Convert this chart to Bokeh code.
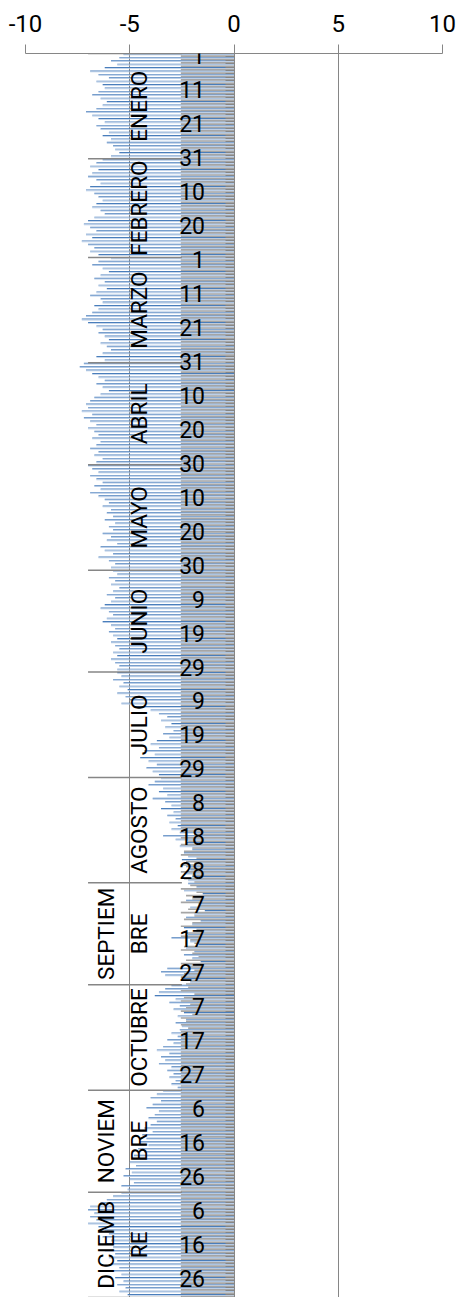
import math
from bokeh.plotting import figure
from bokeh.models import Range1d, ColumnDataSource, FixedTicker, LinearAxis
from bokeh.transform import dodge
from bokeh.core.properties import value
from bokeh.embed import file_html
from bokeh.resources import INLINE

# ---------------- data ----------------
MONTH_LABEL_LINES = [["ENERO"], ["FEBRERO"], ["MARZO"], ["ABRIL"], ["MAYO"], ["JUNIO"],
                     ["JULIO"], ["AGOSTO"], ["SEPTIEM", "BRE"], ["OCTUBRE"],
                     ["NOVIEM", "BRE"], ["DICIEMB", "RE"]]
MONTH_DAYS = [31, 29, 31, 30, 31, 30, 31, 31, 30, 31, 30, 31]
DAY_TICK_LABELS = ["1", "11", "21", "31", "10", "20", "1", "11", "21", "31", "10", "20", "30",
                   "10", "20", "30", "9", "19", "29", "9", "19", "29", "8", "18", "28",
                   "7", "17", "27", "7", "17", "27", "6", "16", "26", "6", "16", "26"]
X_TICKS = [-10, -5, 0, 5, 10]
X_TICK_LABELS = ["-10", "-5", "0", "5", "10"]

BLUE_ENE = [-5.3, -5.5, -5.9, -5.6, -6.2, -6.9, -6.5, -6.0, -6.6, -6.3,
            -6.2, -6.5, -6.8, -6.4, -6.1, -6.3, -6.6, -7.1, -6.8, -6.5,
            -6.2, -6.6, -6.4, -6.0, -6.3, -5.9, -6.1, -5.8, -5.7, -5.5, -5.9]
BLUE_FEB = [-6.3, -6.6, -6.9, -6.5, -6.8, -7.0, -6.6, -6.4, -6.9, -7.1,
            -6.7, -6.5, -6.3, -6.6, -6.8, -6.4, -6.2, -6.7, -7.0, -7.2,
            -6.9, -6.6, -7.1, -6.8, -7.3, -7.0, -6.7, -6.9, -6.5]
BLUE_MAR = [-5.9, -6.5, -6.8, -6.3, -6.0, -6.4, -6.7, -6.2, -6.5, -6.1,
            -6.6, -6.9, -6.4, -6.3, -6.7, -6.5, -6.8, -7.1, -7.3, -7.0,
            -6.6, -6.3, -6.5, -6.2, -6.0, -6.4, -6.1, -5.9, -6.3, -6.6, -6.2]
BLUE_ABR = [-7.2, -7.4, -7.1, -6.8, -6.5, -6.2, -6.6, -6.3, -6.0, -6.4,
            -6.7, -6.9, -7.1, -7.0, -7.3, -6.8, -7.2, -6.9, -6.6, -7.0,
            -6.7, -6.5, -6.8, -6.4, -6.6, -6.9, -6.5, -6.7, -6.3, -6.6]
BLUE_MAY = [-7.0, -6.8, -6.5, -6.9, -6.6, -6.3, -6.7, -6.4, -6.9, -6.5,
            -6.2, -6.0, -6.3, -5.9, -6.1, -5.8, -6.2, -5.7, -6.0, -5.8,
            -6.3, -5.9, -6.1, -5.6, -6.4, -6.2, -5.8, -6.5, -6.0, -5.7, -5.9]
BLUE_JUN = [-5.8, -5.6, -6.0, -5.7, -5.9, -5.5, -5.8, -6.1, -5.7, -5.9,
            -6.2, -6.4, -6.0, -5.8, -6.1, -6.3, -5.9, -5.7, -6.0, -5.8,
            -5.6, -5.9, -5.7, -5.5, -5.8, -5.6, -5.9, -5.7, -5.5, -5.6]
BLUE_JUL = [-5.6, -5.4, -5.8, -5.3, -5.5, -5.1, -5.6, -5.2, -5.0, -5.4,
            -4.8, -4.0, -3.6, -3.2, -3.5, -3.0, -3.3, -2.9, -3.4, -3.1,
            -3.7, -4.0, -3.6, -4.3, -3.8, -4.5, -4.1, -3.7, -4.2, -3.9, -3.6]
BLUE_AGO = [-3.5, -3.8, -4.1, -3.4, -3.6, -3.2, -3.9, -3.3, -3.0, -3.5,
            -2.9, -3.2, -2.8, -3.1, -2.7, -3.0, -2.6, -3.4, -2.8, -2.3,
            -2.6, -2.0, -2.4, -2.2, -2.5, -1.9, -2.3, -2.1, -2.4, -2.0, -2.2]
BLUE_SEP = [-2.2, -1.8, -2.4, -1.5, -2.0, -2.3, -1.7, -2.1, -1.4, -1.9,
            -2.3, -1.6, -2.0, -2.4, -1.8, -2.2, -3.0, -2.1, -1.7, -2.3,
            -1.9, -2.4, -2.0, -1.6, -2.2, -3.2, -3.5, -3.3, -2.4, -2.1]
BLUE_OCT = [-3.0, -3.3, -3.6, -3.8, -2.8, -3.1, -2.6, -2.9, -2.4, -2.7,
            -2.3, -2.8, -2.5, -2.6, -3.0, -2.7, -3.2, -2.9, -3.4, -3.7,
            -3.1, -3.5, -3.3, -3.6, -3.0, -3.2, -2.9, -3.1, -2.8, -3.0, -2.7]
BLUE_NOV = [-3.4, -3.7, -4.0, -3.5, -3.9, -4.2, -3.6, -3.8, -4.1, -3.7,
            -4.0, -4.3, -3.9, -4.4, -4.2, -4.5, -4.1, -4.6, -4.3, -4.8,
            -4.5, -5.0, -4.7, -5.2, -4.9, -5.3, -5.0, -4.8, -5.4, -5.1]
BLUE_DIC = [-5.4, -5.8, -6.1, -6.4, -6.9, -7.0, -6.7, -6.9, -6.6, -7.0,
            -6.5, -6.2, -6.0, -6.3, -5.9, -6.1, -5.8, -6.2, -5.7, -6.0,
            -5.6, -5.9, -5.5, -5.8, -5.4, -5.7, -5.3, -5.6, -5.2, -5.5, -5.1]

GRAY_ENE = [-2.55, -2.55, -2.55, -2.55, -2.55, -2.55, -2.55, -2.55, -2.55, -2.55,
            -2.55, -2.55, -2.55, -2.55, -2.55, -2.55, -2.55, -2.55, -2.55, -2.55,
            -2.55, -2.55, -2.55, -2.55, -2.55, -2.55, -2.55, -2.55, -2.55, -2.55, -2.55]
GRAY_FEB = [-2.55, -2.55, -2.55, -2.55, -2.55, -2.55, -2.55, -2.55, -2.55, -2.55,
            -2.55, -2.55, -2.55, -2.55, -2.55, -2.55, -2.55, -2.55, -2.55, -2.55,
            -2.55, -2.55, -2.55, -2.55, -2.55, -2.55, -2.55, -2.55, -2.55]
GRAY_MAR = [-2.55, -2.55, -2.55, -2.55, -2.55, -2.55, -2.55, -2.55, -2.55, -2.55,
            -2.55, -2.55, -2.55, -2.55, -2.55, -2.55, -2.55, -2.55, -2.55, -2.55,
            -2.55, -2.55, -2.55, -2.55, -2.55, -2.55, -2.55, -2.55, -2.55, -2.55, -2.55]
GRAY_ABR = [-2.55, -2.55, -2.55, -2.55, -2.55, -2.55, -2.55, -2.55, -2.55, -2.55,
            -2.55, -2.55, -2.55, -2.55, -2.55, -2.55, -2.55, -2.55, -2.55, -2.55,
            -2.55, -2.55, -2.55, -2.55, -2.55, -2.55, -2.55, -2.55, -2.55, -2.55]
GRAY_MAY = [-2.55, -2.55, -2.55, -2.55, -2.55, -2.55, -2.55, -2.55, -2.55, -2.55,
            -2.55, -2.55, -2.55, -2.55, -2.55, -2.55, -2.55, -2.55, -2.55, -2.55,
            -2.55, -2.55, -2.55, -2.55, -2.55, -2.55, -2.55, -2.55, -2.55, -2.55, -2.55]
GRAY_JUN = [-2.55, -2.55, -2.55, -2.55, -2.55, -2.55, -2.55, -2.55, -2.55, -2.55,
            -2.55, -2.55, -2.55, -2.55, -2.55, -2.55, -2.55, -2.55, -2.55, -2.55,
            -2.55, -2.55, -2.55, -2.55, -2.55, -2.55, -2.55, -2.55, -2.55, -2.55]
GRAY_JUL = [-2.55, -2.55, -2.55, -2.55, -2.55, -2.55, -2.55, -2.55, -2.55, -2.55,
            -2.55, -2.55, -2.55, -2.55, -2.55, -2.55, -2.55, -2.55, -2.55, -2.55,
            -2.55, -2.55, -2.55, -2.55, -2.55, -2.55, -2.55, -2.55, -2.55, -2.55, -2.55]
GRAY_AGO = [-2.55, -2.55, -2.55, -2.55, -2.55, -2.55, -2.55, -2.55, -2.55, -2.55,
            -2.55, -2.55, -2.55, -2.55, -2.55, -2.55, -1.9, -2.55, -2.2, -2.55,
            -2.0, -2.4, -2.55, -1.8, -2.3, -2.55, -2.1, -2.55, -2.0, -2.4, -1.9]
GRAY_SEP = [-2.1, -2.55, -1.8, -2.3, -2.0, -2.55, -1.7, -2.2, -2.55, -1.9,
            -2.4, -2.0, -2.55, -1.8, -2.3, -2.55, -2.1, -1.9, -2.4, -2.55,
            -2.0, -1.7, -2.3, -2.55, -2.2, -1.9, -2.4, -2.55, -2.1, -2.3]
GRAY_OCT = [-2.2, -2.55, -1.9, -2.4, -2.55, -2.1, -2.3, -2.55, -2.0, -2.55,
            -2.3, -2.55, -2.2, -2.55, -2.4, -2.55, -2.55, -2.55, -2.55, -2.55,
            -2.55, -2.55, -2.55, -2.55, -2.55, -2.55, -2.55, -2.55, -2.55, -2.55, -2.55]
GRAY_NOV = [-2.55, -2.55, -2.55, -2.55, -2.55, -2.55, -2.55, -2.55, -2.55, -2.55,
            -2.55, -2.55, -2.55, -2.55, -2.55, -2.55, -2.55, -2.55, -2.55, -2.55,
            -2.55, -2.55, -2.55, -2.55, -2.55, -2.55, -2.55, -2.55, -2.55, -2.55]
GRAY_DIC = [-2.55, -2.55, -2.55, -2.55, -2.55, -2.55, -2.55, -2.55, -2.55, -2.55,
            -2.55, -2.55, -2.55, -2.55, -2.55, -2.55, -2.55, -2.55, -2.55, -2.55,
            -2.55, -2.55, -2.55, -2.55, -2.55, -2.55, -2.55, -2.55, -2.55, -2.55, -2.55]

BLUE = (BLUE_ENE + BLUE_FEB + BLUE_MAR + BLUE_ABR + BLUE_MAY + BLUE_JUN +
        BLUE_JUL + BLUE_AGO + BLUE_SEP + BLUE_OCT + BLUE_NOV + BLUE_DIC)
GRAY = (GRAY_ENE + GRAY_FEB + GRAY_MAR + GRAY_ABR + GRAY_MAY + GRAY_JUN +
        GRAY_JUL + GRAY_AGO + GRAY_SEP + GRAY_OCT + GRAY_NOV + GRAY_DIC)

N = sum(MONTH_DAYS)
idx = list(range(N))

# ---------------- styling ----------------
FONT = "Roboto"
AXIS_GRAY = "#868686"
DARK_BLUE = "#4A7EBB"
LIGHT_BLUE = "#B4CAE6"
BAR_GRAY = "#A5A5A5"

p = figure(width=459, height=1297,
           x_range=Range1d(-10, 10), y_range=Range1d(N - 0.5, -0.5),
           x_axis_location="above", y_axis_location=None,
           toolbar_location=None, output_backend="svg",
           min_border_left=25, min_border_right=17, min_border_top=53, min_border_bottom=0)
p.outline_line_color = None
p.background_fill_color = "white"
p.border_fill_color = "white"

ax = p.xaxis[0]
ax.ticker = FixedTicker(ticks=X_TICKS)
ax.major_label_overrides = {t: lab for t, lab in zip(X_TICKS, X_TICK_LABELS)}
ax.major_label_standoff = 13
ax.major_label_text_font = FONT
ax.major_label_text_font_size = "24px"
ax.major_label_text_color = "black"
ax.axis_line_color = AXIS_GRAY
ax.major_tick_line_color = AXIS_GRAY
ax.major_tick_out = 9
ax.major_tick_in = 0
ax.minor_tick_line_color = None

p.xgrid.ticker = FixedTicker(ticks=X_TICKS)
p.xgrid.grid_line_color = AXIS_GRAY
p.ygrid.grid_line_color = None

src = ColumnDataSource(dict(y=idx, blue=BLUE, gray=GRAY))
p.hbar(y=dodge("y", -0.37, range=p.y_range), height=0.26, left="blue", right=0,
       source=src, fill_color=DARK_BLUE, line_color=None)
p.hbar(y=dodge("y", -0.11, range=p.y_range), height=0.26, left="blue", right=0,
       source=src, fill_color=LIGHT_BLUE, line_color=None)
p.hbar(y=dodge("y", 0.26, range=p.y_range), height=0.48, left="gray", right=0,
       source=src, fill_color=BAR_GRAY, line_color=None)

# category axis crossing at x = 0 (day labels, ticks between categories)
day_pos = list(range(0, N, 10))
bounds = [i + 0.5 for i in range(-1, N)]
yax = LinearAxis(fixed_location=0,
                 ticker=FixedTicker(ticks=day_pos, minor_ticks=bounds),
                 major_label_overrides={pos: lab for pos, lab in zip(day_pos, DAY_TICK_LABELS)},
                 major_tick_out=0, major_tick_in=0,
                 minor_tick_out=9, minor_tick_in=0, minor_tick_line_color=AXIS_GRAY,
                 axis_line_color=AXIS_GRAY,
                 major_label_standoff=20,
                 major_label_text_font=FONT, major_label_text_font_size="23px",
                 major_label_text_color="black")
p.add_layout(yax, "left")

# month group dividers
starts = []
s = 0
for d in MONTH_DAYS:
    starts.append(s)
    s += d
mb = [st - 0.5 for st in starts] + [N - 0.5]
p.segment(x0=[-7.0] * len(mb), x1=[-2.5] * len(mb), y0=mb, y1=mb,
          line_color=AXIS_GRAY, line_width=1.5)

# month labels
mx, my, mt, moff = [], [], [], []
for lines, st, d in zip(MONTH_LABEL_LINES, starts, MONTH_DAYS):
    c = st + (d - 1) / 2
    offs = [-95.0] if len(lines) == 1 else [-128.0, -95.0]
    for line, off in zip(lines, offs):
        mx.append(0)
        my.append(c)
        mt.append(line)
        moff.append(off)
msrc = ColumnDataSource(dict(x=mx, y=my, t=mt, off=moff))
p.text(x="x", y="y", text="t", x_offset="off", source=msrc, angle=math.pi / 2,
       text_align="center", text_baseline="alphabetic",
       text_font=value(FONT), text_font_size="22.5px", text_color="black")

open("out.html", "w").write(file_html(p, INLINE))
